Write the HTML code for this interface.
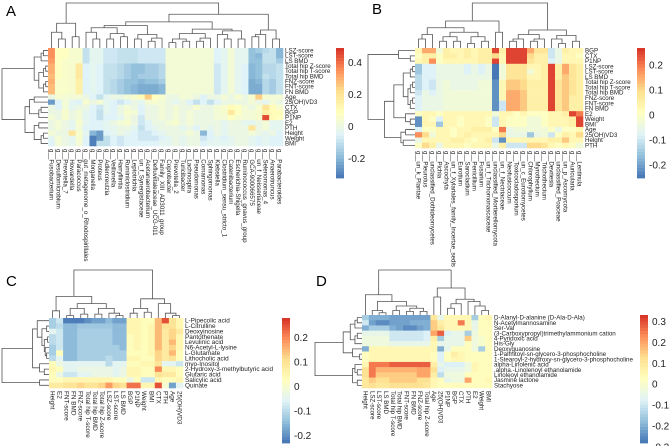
<!DOCTYPE html>
<html><head><meta charset="utf-8"><style>
body{margin:0;background:#fff;}
svg{display:block;font-family:"Liberation Sans",sans-serif;}
</style></head><body>
<svg id="fig" width="669" height="446" viewBox="0 0 669 446"></svg>
<script>
// ---------- Panel A data ----------
const aRows=["LSZ-score","LST-score","LS BMD","Total hip Z-score","Total hip T-score","Total hip BMD","FNZ-score","FNT-score","FN BMD","Age","25(OH)VD3","CTX","BGP","P1NP","E2","PTH","Height","Weight","BMI"];
const aCols=["Fusobacterium","Desulfomicrobium","Prevotella_7","Howardella","Paracoccus","gut_metagenome_o_Rhodospirillales","Morganella","Proteus","Adlercreutzia","Veillonella","Harryflintia","Ruminiclostridium","Leptotrichia","un_f_Synergistaceae","Acetanaerobacterium","Defluviitaleaceae_UCG-011","Family_XIII_AD3011_group","Coprobacter","Prevotella_2","Turicibacter","Lachnospira","Pseudomonas","Comamonas","Sphingomonas","Klebsiella","Clostridium_sensu_stricto_1","Catenibacterium","Escherichia-Shigella","Ruminococcus_gnavus_group","GCA-900066575","un_f_Neisseriaceae","Selenomonas_4","Anaerotruncus","Parabacteroides"];
const aVals=[
[35,8,8,5,5,-10,-3,-3,-8,-8,-10,-10,-10,-8,-8,-8,-8,3,3,3,3,3,3,3,-5,-3,3,-3,-3,-18,-15,-12,-10,-20],
[35,8,8,5,5,-10,-3,-3,-8,-8,-10,-10,-10,-8,-8,-8,-8,3,3,3,3,3,3,3,-5,-3,3,-3,-3,-18,-20,-10,-10,-20],
[33,8,6,5,5,-10,-3,-3,-8,-8,-10,-10,-10,-8,-8,-8,-8,3,3,3,3,3,3,3,-5,-3,3,-3,-3,-18,-18,-10,-10,-15],
[30,8,6,5,18,-5,-3,-5,-10,-10,-12,-15,-18,-18,-15,-15,-12,3,3,3,3,3,3,3,-8,-3,3,-3,-5,-20,-18,-12,-12,-10],
[30,8,6,5,18,-5,-3,-5,-10,-10,-12,-15,-18,-18,-15,-15,-12,3,3,3,3,3,3,3,-8,-3,3,-3,-5,-20,-18,-12,-12,-10],
[28,8,6,5,18,-5,-3,-5,-10,-10,-12,-15,-18,-15,-15,-15,-12,3,3,3,3,3,3,3,-8,-3,3,-3,-5,-20,-18,-10,-12,-10],
[30,6,6,5,15,-5,-3,-5,-10,-12,-15,-18,-18,-20,-18,-18,-15,3,3,3,3,3,3,3,-8,-3,3,-3,-5,-22,-20,-12,-15,-10],
[28,6,6,5,15,-5,-3,-5,-10,-12,-15,-18,-20,-22,-22,-22,-20,3,3,3,3,3,3,3,-8,-3,3,-3,-5,-22,-22,-12,-15,-10],
[28,6,6,5,15,-5,-3,-5,-10,-12,-15,-18,-20,-22,-22,-22,-20,3,3,3,3,3,3,3,-8,-3,3,-3,-5,-22,-22,-12,-15,-10],
[0,5,3,3,3,0,-5,-10,-3,0,0,3,5,10,25,8,5,0,0,3,3,0,-5,0,0,3,0,5,0,5,25,5,3,3],
[-25,-5,3,-3,-5,5,0,3,-3,-5,-8,-5,0,-3,3,5,3,0,-3,0,-5,-10,-5,-10,-5,0,0,0,0,3,0,-3,3,0],
[0,-5,3,-3,0,0,-5,-8,-3,-5,0,3,0,-5,0,0,3,0,3,0,0,5,0,0,3,5,10,8,3,0,5,20,10,5],
[0,0,5,0,3,-3,-5,-10,-3,-5,0,5,3,-5,0,0,3,0,3,0,3,0,0,0,3,5,18,8,3,3,5,15,10,10],
[3,0,5,0,3,-3,-5,-10,-5,-5,-3,3,0,-8,0,0,3,0,3,0,3,0,0,0,3,3,8,5,3,3,5,45,10,8],
[0,3,0,-3,5,-3,-5,-5,-3,0,3,5,0,-8,-5,0,0,3,5,0,3,0,0,0,0,-3,0,0,-3,-3,0,3,-3,-3],
[0,3,0,-3,3,-5,-5,-5,-3,-3,0,0,-3,-10,-5,-3,0,0,0,-3,0,-5,0,-3,0,-3,0,0,0,20,0,3,-3,-3],
[3,0,0,20,5,-3,-20,-25,-5,-3,0,-3,-5,-8,-8,-5,-3,0,0,0,3,0,-20,-5,0,-3,0,0,0,3,0,-3,0,-5],
[-3,3,0,-3,5,-5,-30,-25,-10,-5,-8,-5,-5,-8,-8,-8,-5,-3,0,-3,0,0,-8,-5,-3,-5,-3,0,0,-3,-5,-3,-5,-5],
[-5,3,0,-3,3,-5,-30,-10,-10,-5,-8,-5,-5,-5,-5,-5,-3,-3,0,-3,0,0,-5,-3,-3,-3,-3,0,0,-3,-5,-3,-5,-5]];
const aLegendTicks=[0.4,0.2,0,-0.2];
// ---------- Panel B data ----------
const bRows=["BGP","CTX","P1NP","LSZ-score","LST-score","LS BMD","Total hip Z-score","Total hip T-score","Total hip BMD","FNZ-score","FNT-score","FN BMD","E2","Weight","BMI","Age","25(OH)VD3","Height","PTH"];
const bCols=["un_k_Plantae","Pleurotus","unclassified_Dothideomycetes","Pichia","Ascochyta","un_f_Xylariales_family_Incertae_sedis","Eurotium","Sarocladium","Penicillium","Fusarium","un_f_Trichomonascaceae","unclassified_Mortierellomycota","un_f_Nectriaceae","Neofusicoccum","Toxicocladosporium","un_c_Eurotiomycetes","Chlorophyllum","Myrothecium","Trichothecium","Devriesia","unclassified_Poaceae","un_p_Ascomycota","Auricularia","Lentinula"];
const bVals=[
[3,15,15,-3,5,3,3,5,3,5,5,25,5,25,25,25,15,8,8,-10,-5,5,3,3],
[0,5,5,0,5,5,3,5,3,5,5,10,3,25,25,25,10,5,5,-10,-5,3,3,0],
[3,5,18,0,3,3,3,3,3,5,5,25,3,25,25,25,8,5,5,-8,-5,3,3,3],
[-15,-8,-8,-5,-5,-5,-5,-8,-5,-8,-5,-25,-3,8,8,8,3,3,5,25,5,15,8,5],
[-15,-8,-8,-5,-5,-5,-5,-8,-5,-8,-5,-25,-3,8,8,8,-3,3,5,25,5,15,8,5],
[-12,-8,-8,-5,-5,-5,-5,-5,-5,-5,-5,-25,-3,8,8,8,3,3,5,25,5,12,8,5],
[-12,-8,-10,-5,-3,-5,-5,-5,-5,-3,-3,-22,3,12,12,10,5,5,5,25,8,12,8,5],
[-12,-8,-10,-5,-3,-5,-5,-5,-5,-3,-3,-22,3,12,12,10,5,5,5,25,8,12,8,5],
[-10,-5,-8,-5,-3,-3,-3,-3,-3,-3,-3,-22,3,15,15,12,5,5,5,25,8,12,8,5],
[-8,-5,-5,-5,-3,-3,-3,-3,-3,-3,-3,-22,3,15,15,12,5,5,5,25,8,12,5,5],
[-8,-5,-5,-5,-3,-3,-3,-3,-3,-3,-3,-22,-10,15,15,12,5,5,5,25,8,12,5,5],
[-8,-5,-5,-5,-3,-3,-3,-3,-3,-3,-3,-22,-10,15,15,12,5,5,5,25,8,12,5,5],
[0,3,3,0,3,3,3,3,3,3,3,-3,3,3,0,3,0,0,0,3,3,5,25,20],
[-22,3,0,-8,3,3,0,3,3,3,0,-10,3,0,0,0,-3,-3,0,3,3,3,5,25],
[-22,3,3,-15,3,3,0,3,3,3,0,-10,3,0,0,0,-3,-3,0,3,3,3,5,25],
[-8,0,0,3,3,0,3,3,5,5,5,0,20,-5,-3,-3,-3,-3,-3,0,-5,0,0,3],
[18,10,-3,3,3,0,3,5,3,3,3,3,10,-5,-5,-5,-15,-5,-3,-10,0,5,3,10],
[-5,3,3,3,3,5,5,3,0,3,5,-10,-22,3,3,3,3,3,3,5,5,12,3,3],
[0,10,5,-5,3,3,3,0,3,3,3,-5,5,-10,-10,-10,10,10,8,3,0,3,0,-3]];
const bLegendTicks=[0.2,0.1,0,-0.1,-0.2];
// ---------- Panel C data ----------
const cRows=["L-Pipecolic acid","L-Citrulline","Deoxyinosine","Pantothenate","Levulinic acid","N6-Acetyl-L-lysine","L-Glutamate","Lithocholic acid","myo-Inositol","2-Hydroxy-3-methylbutyric acid","Glutaric acid","Salicylic acid","Quinate"];
const cCols=["Height","E2","FNT-score","FN BMD","FNZ-score","Total hip T-score","Total hip BMD","Total hip Z-score","LSZ-score","LST-score","LS BMD","BGP","P1NP","Weight","BMI","CTX","PTH","Age","25(OH)VD3"];
const cVals=[
[-12,-8,-22,-22,-22,-20,-18,-18,-15,-18,-18,5,5,3,3,15,25,10,5],
[-12,-10,-15,-15,-13,-13,-13,-13,-13,-15,-15,5,5,3,5,15,10,10,5],
[-5,-8,-15,-15,-12,-12,-12,-12,-12,-15,-15,5,5,3,5,15,8,12,8],
[-10,-8,-15,-15,-12,-12,-12,-12,-12,-15,-15,3,5,3,5,15,8,12,5],
[-10,-8,-15,-15,-12,-12,-12,-12,-12,-15,-15,3,5,3,5,15,8,15,5],
[-12,-8,-15,-15,-12,-12,-12,-12,-12,-12,-15,3,5,3,5,15,8,12,5],
[-12,3,-15,-15,-12,-12,-12,-12,-12,-12,-12,3,3,3,5,12,8,15,3],
[-10,-5,-15,-15,-12,-12,-12,-12,-10,-12,-12,5,5,3,3,12,8,10,3],
[3,-3,-5,-5,-5,-5,-5,-5,-10,-5,-5,3,3,5,5,10,-5,-5,-8],
[5,3,-5,-5,-3,-3,-3,-3,-3,-5,-3,5,5,3,3,20,5,5,3],
[3,-3,-8,-8,-5,-5,-3,-3,-3,-5,-3,5,5,3,3,10,8,8,3],
[3,3,5,5,5,5,5,5,5,3,3,-3,3,-8,-8,5,3,3,5],
[8,8,10,10,12,10,10,12,18,12,10,22,22,5,5,25,0,-18,-5]];
const cLegendTicks=[0.2,0.1,0,-0.1,-0.2];
// ---------- Panel D data ----------
const dRows=["D-Alanyl-D-alanine (D-Ala-D-Ala)","N-Acetylmannosamine","Ser-Val","(3-Carboxypropyl)trimethylammonium cation","4-Pyridoxic acid","His-Gly","Deoxyguanosine","1-Palmitoyl-sn-glycero-3-phosphocholine","1-Stearoyl-2-hydroxy-sn-glycero-3-phosphocholine","alpha-Linolenic acid",".alpha.-Linolenoyl ethanolamide","Linoleoyl ethanolamide","Jasmine lactone","Stachyose"];
const dCols=["Height","LSZ-score","LST-score","LS BMD","Total hip T-score","Total hip BMD","FNT-score","FN BMD","FNZ-score","Total hip Z-score","Age","25(OH)VD3","P1NP","BGP","CTX","PTH","E2","Weight","BMI"];
const dVals=[
[-15,-20,-20,-20,-22,-22,-22,-22,-22,-22,10,-5,5,5,5,5,-15,3,5],
[-10,-22,-25,-25,-22,-22,-22,-20,-20,-20,15,8,5,5,25,5,-5,3,3],
[-20,-15,-15,-15,-20,-22,-25,-25,-22,-20,15,10,5,5,5,5,-5,3,3],
[-5,-5,-5,-5,-10,-10,-10,-10,-10,-8,20,28,-8,-5,-5,-15,-3,3,3],
[-3,-3,-3,-3,-10,-10,-10,-10,-10,-8,8,-15,-5,-5,-5,15,-3,0,3],
[-3,-3,-3,-3,-5,-5,-5,-5,-5,-5,5,-5,-5,-5,-5,3,-3,0,3],
[-20,5,5,5,5,5,5,5,5,5,5,-20,-5,3,3,3,-3,-15,3],
[3,5,5,5,5,5,5,5,5,5,3,-8,3,8,5,3,3,3,3],
[3,5,5,5,5,5,5,5,5,5,3,-8,3,5,5,3,3,3,3],
[5,25,25,25,28,28,28,28,28,28,8,-5,-8,-8,-8,-3,5,3,3],
[12,25,18,18,18,18,18,18,20,20,12,-8,-5,-5,-5,-3,5,3,3],
[12,25,15,15,15,15,15,15,20,20,8,-12,-3,-3,-3,3,3,3,3],
[10,15,12,12,15,15,15,15,12,12,5,3,-5,-3,-3,20,3,3,5],
[10,12,10,10,12,12,12,12,12,10,5,3,3,3,3,3,3,3,3]];
const dLegendTicks=[0.3,0.2,0.1,0,-0.1,-0.2,-0.3];
// ---------- Dendrogram trees ----------
const aColTree=[[[0,[1,2,0.2],0.35],[3,4,0.25],0.55],[[[[[5,[6,7,0.2],0.35],[[8,9,0.2],[10,11,0.25],0.32],0.45],[[12,13,0.2],[[14,15,0.15],16,0.22],0.3],0.5],[[[[17,18,0.12],[19,20,0.15],0.2],[[21,22,0.15],23,0.22],0.32],[[24,[25,26,0.2],0.3],[27,28,0.2],0.38],0.42],0.58],[[[29,30,0.25],31,0.3],[32,33,0.2],0.4],0.75],1];
const aRowTree=[[[[0,1,0.1],2,0.15],[[[3,4,0.05],5,0.1],[[6,7,0.05],8,0.1],0.2],0.3],[[[9,10,0.3],[[11,12,0.15],13,0.2],0.4],[[14,15,0.2],[[16,17,0.1],18,0.15],0.3],0.5],1];
const bColTree=[[[[[0,1,0.2],2,0.3],[[[3,4,0.15],[5,6,0.15],0.25],[[7,8,0.1],[9,10,0.15],0.25],0.35],0.45],[11,12,0.35],0.6],[[[[13,14,0.15],15,0.2],[[16,17,0.15],18,0.2],0.3],[[19,[20,21,0.1],0.2],[22,23,0.15],0.28],0.4],1];
const bRowTree=[[0,[1,2,0.1],0.35],[[[[[3,4,0.05],5,0.1],[[[6,7,0.05],8,0.1],[[9,10,0.05],11,0.1],0.15],0.25],[12,[13,14,0.1],0.2],0.45],[[15,16,0.2],[17,18,0.25],0.3],0.65],1];
const cColTree=[[[0,1,0.15],[[[2,3,0.05],[4,5,0.08],0.2],[[6,7,0.08],[8,[9,10,0.05],0.1],0.2],0.3],0.45],[[[11,12,0.1],[13,14,0.12],0.2],[15,[16,[17,18,0.05],0.1],0.3],0.4],1];
const cRowTree=[[[0,[[1,2,0.05],[[3,4,0.03],[5,[6,7,0.05],0.08],0.1],0.15],0.25],[8,[9,10,0.1],0.2],0.35],[11,12,0.2],1];
const dColTree=[[0,[[1,[2,3,0.05],0.1],[[4,5,0.1],[[6,7,0.08],[8,9,0.08],0.15],0.2],0.3],0.45],[[10,11,0.4],[[[12,13,0.15],14,0.25],[15,[16,[17,18,0.1],0.2],0.3],0.35],0.6],1];
const dRowTree=[[[[[0,1,0.1],2,0.15],[[3,4,0.1],5,0.15],0.25],[6,[7,8,0.05],0.2],0.4],[[9,[10,11,0.1],0.15],[12,13,0.1],0.2],1];

const NS="http://www.w3.org/2000/svg";
const svg=document.getElementById('fig');
const PAL=["#4575B4","#91BFDB","#E0F3F8","#FFFFBF","#FEE090","#FC8D59","#D73027"];
function hex(c){return [1,3,5].map(i=>parseInt(c.substr(i,2),16));}
function colorAt(t){t=Math.max(0,Math.min(1,t));const p=t*(PAL.length-1);const i=Math.min(PAL.length-2,Math.floor(p));const f=p-i;const a=hex(PAL[i]),b=hex(PAL[i+1]);return "rgb("+a.map((v,k)=>Math.round(v+(b[k]-v)*f)).join(",")+")";}
function el(tag,attrs,parent){const e=document.createElementNS(NS,tag);for(const k in attrs)e.setAttribute(k,attrs[k]);(parent||svg).appendChild(e);return e;}

function dendro(g,tree,pos,orient,base,size){
  // returns [center,height]
  function rec(n){
    if(typeof n==="number")return [pos(n),0];
    const L=rec(n[0]),R=rec(n[1]),h=n[2];
    const hp=base-h*size,lp=base-L[1]*size,rp=base-R[1]*size;
    let d;
    if(orient==="top")d=`M${L[0]},${lp}V${hp}H${R[0]}V${rp}`;
    else d=`M${lp},${L[0]}H${hp}V${R[0]}H${rp}`;
    const p=el('path',{d:d,fill:'none',stroke:'#555','stroke-width':0.8},g);
    
    
    return [(L[0]+R[0])/2,h];
  }
  rec(tree);
}

function panel(cfg){
  const g=el('g',{});
  
  
  const nr=cfg.rows.length,nc=cfg.cols.length;
  const cw=(cfg.x1-cfg.x0)/nc,rh=(cfg.y1-cfg.y0)/nr;
  const xs=j=>cfg.x0+j*cw, ys=i=>cfg.y0+i*rh;
  const tv=v=>(v/100-cfg.vmin)/(cfg.vmax-cfg.vmin);
  for(let i=0;i<nr;i++)for(let j=0;j<nc;j++){
    const r=el('rect',{x:xs(j),y:ys(i),width:cw+0.3,height:rh+0.3,fill:colorAt(tv(cfg.vals[i][j]))},g);
    
    
  }
  for(let i=0;i<nr;i++){
    const t=el('text',{x:cfg.x1+2,y:ys(i)+rh/2+2,'font-size':cfg.fs,fill:'#222'},g);
    t.textContent=cfg.rows[i];
    
    
  }
  for(let j=0;j<nc;j++){
    const cx=xs(j)+cw/2-2,cy=cfg.y1+3;
    const t=el('text',{x:cx,y:cy,'font-size':cfg.fs,fill:'#222',transform:`rotate(90 ${cx} ${cy})`},g);
    t.textContent=(cfg.prefix||"")+cfg.cols[j];
    
    
  }
  dendro(g,cfg.colTree,j=>xs(j)+cw/2,'top',cfg.y0,cfg.y0-cfg.topY);
  dendro(g,cfg.rowTree,i=>ys(i)+rh/2,'left',cfg.x0,cfg.x0-cfg.leftX);
  const L=el('text',{x:cfg.lx,y:cfg.ly,'font-size':15,fill:'#000'},g);
  L.textContent=cfg.letter;
  
  
  // legend
  const lg=cfg.leg;
  const n=40,hh=(lg.y1-lg.y0)/n;
  for(let k=0;k<n;k++){
    const r=el('rect',{x:lg.x,y:lg.y0+k*hh,width:8,height:hh+0.4,fill:colorAt(1-(k+0.5)/n)},g);
    
    
  }
  const ly=v=>lg.y0+(cfg.vmax-v)/(cfg.vmax-cfg.vmin)*(lg.y1-lg.y0);
  cfg.ticks.forEach(v=>{
    const t=el('text',{x:lg.x+12,y:ly(v)+3.5,'font-size':10,fill:'#222'},g);
    t.textContent=String(v);
    
    
  });
}

panel({name:'panel-a-heatmap',rows:aRows,cols:aCols,vals:aVals,prefix:'g__',x0:48,x1:283,y0:48,y1:146,topY:3,leftX:2,fs:6.2,vmin:-0.32,vmax:0.49,colTree:aColTree,rowTree:aRowTree,letter:'A',lx:6,ly:16,leg:{x:336,y0:48,y1:178},ticks:aLegendTicks});
panel({name:'panel-b-heatmap',rows:bRows,cols:bCols,vals:bVals,prefix:'g__',x0:415,x1:583,y0:48,y1:148,topY:3,leftX:368,fs:6.2,vmin:-0.252,vmax:0.268,colTree:bColTree,rowTree:bRowTree,letter:'B',lx:372,ly:14,leg:{x:637,y0:48,y1:178},ticks:bLegendTicks});
panel({name:'panel-c-heatmap',rows:cRows,cols:cCols,vals:cVals,x0:49,x1:183,y0:318,y1:388,topY:270,leftX:2,fs:6.4,vmin:-0.23,vmax:0.28,colTree:cColTree,rowTree:cRowTree,letter:'C',lx:6,ly:286,leg:{x:282,y0:318,y1:443},ticks:cLegendTicks});
panel({name:'panel-d-heatmap',rows:dRows,cols:dCols,vals:dVals,x0:362,x1:492,y0:315,y1:388,topY:270,leftX:315,fs:6.2,vmin:-0.28,vmax:0.33,colTree:dColTree,rowTree:dRowTree,letter:'D',lx:316,ly:286,leg:{x:640,y0:315,y1:443},ticks:dLegendTicks});
</script>
</body></html>
